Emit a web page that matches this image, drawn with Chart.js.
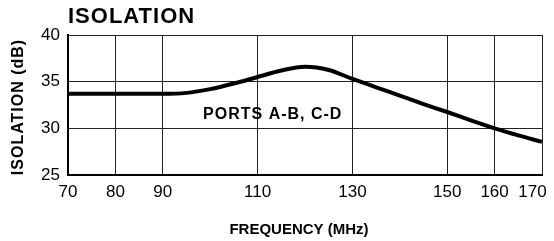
<!DOCTYPE html>
<html>
<head>
<meta charset="utf-8">
<script src="https://cdn.jsdelivr.net/npm/chart.js@4"></script>
<style>
  html, body { margin: 0; padding: 0; background: #fff; }
  #wrap { width: 554px; height: 241px; position: relative; }
</style>
</head>
<body>
<div id="wrap"><canvas id="chart"></canvas></div>
<script>
// ---- data ----
const FREQ = [70, 75, 80, 85, 90, 95, 100, 105, 110, 115, 120, 125, 130, 135, 140, 145, 150, 155, 160, 165, 170];
const ISOLATION = [33.7, 33.7, 33.7, 33.7, 33.7, 33.8, 34.2, 34.8, 35.5, 36.2, 36.6, 36.25, 35.3, 34.4, 33.5, 32.6, 31.75, 30.85, 30.0, 29.25, 28.55];
const X_TICKS = [70, 80, 90, 110, 130, 150, 160, 170];
const Y_TICKS = [25, 30, 35, 40];

const TITLE = "ISOLATION";
const Y_TITLE = "ISOLATION (dB)";
const X_TITLE = "FREQUENCY (MHz)";
const CURVE_LABEL = "PORTS A-B, C-D";
const CURVE_LABEL_AT = [98.5, 31];

const FONT = "'Liberation Sans', Arial, Helvetica, sans-serif";

// draws the headings and the curve note
const textPlugin = {
  id: "textPlugin",
  afterDraw(chart) {
    const ctx = chart.ctx;
    const area = chart.chartArea;
    const xs = chart.scales.x;
    const ys = chart.scales.y;

    ctx.save();
    ctx.fillStyle = "#000";

    ctx.font = "bold 22px " + FONT;
    ctx.letterSpacing = "1px";
    ctx.textAlign = "left";
    ctx.textBaseline = "alphabetic";
    ctx.fillText(TITLE, area.left, 23);

    ctx.font = "bold 16px " + FONT;
    ctx.letterSpacing = "1px";
    ctx.fillText(CURVE_LABEL, xs.getPixelForValue(CURVE_LABEL_AT[0]), ys.getPixelForValue(CURVE_LABEL_AT[1]));

    ctx.save();
    ctx.translate(23, (area.top + area.bottom) / 2 + 2);
    ctx.rotate(-Math.PI / 2);
    ctx.textAlign = "center";
    ctx.fillText(Y_TITLE, 0, 0);
    ctx.restore();

    ctx.font = "bold 15px " + FONT;
    ctx.letterSpacing = "0px";
    ctx.textAlign = "center";
    ctx.fillText(X_TITLE, (area.left + area.right) / 2 - 6, 234);

    ctx.restore();
  }
};

new Chart(document.getElementById("chart"), {
  type: "line",
  data: {
    datasets: [{
      data: FREQ.map((f, i) => ({ x: f, y: ISOLATION[i] })),
      borderColor: "#000",
      borderWidth: 4,
      pointRadius: 0,
      fill: false,
      cubicInterpolationMode: "monotone"
    }]
  },
  options: {
    responsive: true,
    maintainAspectRatio: false,
    animation: false,
    layout: { padding: { top: 35, right: 12, left: 0, bottom: 0 } },
    plugins: {
      legend: { display: false },
      tooltip: { enabled: false }
    },
    scales: {
      x: {
        type: "linear",
        min: 70,
        max: 170,
        afterBuildTicks: scale => { scale.ticks = X_TICKS.map(v => ({ value: v })); },
        afterFit: scale => {
          scale.height = 66;
          scale.paddingLeft = 0;
          scale.paddingRight = 0;
        },
        grid: { color: "#222", lineWidth: 1, drawTicks: false },
        border: { color: "#000", width: 2 },
        ticks: {
          color: "#000",
          padding: 7,
          maxRotation: 0,
          autoSkip: false,
          font: { family: FONT, size: 17 },
          // last label sits inside the frame, as in the original
          callback: v => (v === 170 ? v + "    " : String(v))
        }
      },
      y: {
        min: 25,
        max: 40,
        afterBuildTicks: scale => { scale.ticks = Y_TICKS.map(v => ({ value: v })); },
        afterFit: scale => {
          scale.width = 68;
          scale.paddingTop = 0;
          scale.paddingBottom = 0;
        },
        grid: { color: "#222", lineWidth: 1, drawTicks: false },
        border: { color: "#000", width: 2 },
        ticks: {
          color: "#000",
          padding: 8,
          font: { family: FONT, size: 17 }
        }
      }
    }
  },
  plugins: [textPlugin]
});
</script>
</body>
</html>
